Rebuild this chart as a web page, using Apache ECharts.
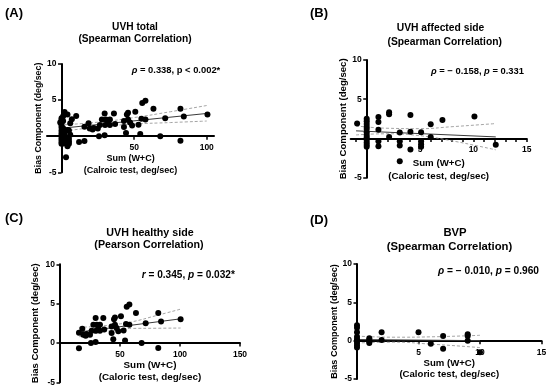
<!DOCTYPE html>
<html><head><meta charset="utf-8">
<script src="https://cdn.jsdelivr.net/npm/echarts@6/dist/echarts.min.js"></script>
<style>html,body{margin:0;padding:0;background:#fff}#c{width:550px;height:390px}</style>
</head><body><div id="c"></div>
<script>
const FONT = '"Liberation Sans", Arial, Helvetica, sans-serif';

// ---------- DATA ----------
// (B) UVH affected side
const affectedX = [-0.9, 0,0,0,0,0,0,0,0,0,0,0,0, 1.1,1.1,1.1,1.1,1.1, 2.1,2.1,2.1, 3.1,3.1,3.1,3.1, 4.1,4.1,4.1, 5.1,5.1,5.1,5.1, 6,6, 7.1, 10.1, 12.1];
const affectedY = [1.9, 2.5,2.2,1.85,1.5,1.2,0.8,0.45,0.15,-0.2,-0.5,-0.8,-1.05, 2.75,2.1,1.1,-0.35,-1.0, 3.35,3.1,0.2, 0.75,-0.35,-0.9,-2.9, 3.0,0.85,-1.4, 0.8,-0.35,-0.75,-1.05, 1.8,0.2, 2.35, 2.8, -0.8];
// (C) UVH healthy side
const healthyX = [15.8,15.8,18.6,19.4,21.4,22.2,25.8,25,26.4,27.8,29.7,30,30.6,29.7,33.3,31.9,33.3,36.1,36.9,43,43,44.4,45,45.8,45.8,47.2,48.6,50.8,54.2,55,55.6,57.8,57.8,53,63.3,68,71.4,81.9,81.9,84.2,100.5];
const healthyY = [-0.68,1.3,1.8,1.05,0.93,1.14,0.0,1.05,1.56,2.3,3.16,1.56,2.3,0.13,2.3,1.8,1.56,3.16,1.7,2.1,1.27,0.46,3.0,3.25,2.3,1.9,1.48,3.4,0.3,2.4,4.6,4.9,2.3,1.6,3.8,0.0,2.5,3.8,-0.63,2.74,3.0];
// (D) BVP
const bvpX = [0,0,0,0,0,0,0,0,0, 1,1,1,1, 2,2, 5, 6, 7,7, 9,9,9, 10];
const bvpY = [2.0,1.7,1.1,0.5,0.2,0.0,-0.3,-0.6,-0.9, 0.3,0.1,-0.1,-0.3, 1.1,0.1, 1.1, -0.4, 0.6,-1.05, 0.85,0.6,0.0, -1.5];
// (A) UVH total = affected + healthy sides
const totalX = affectedX.concat(healthyX);
const totalY = affectedY.concat(healthyY);

// regression lines and 95% confidence bands
const fitAX = [-1, 100], fitAY = [1.08, 3.15];
const bandAX = [-1, 25, 50, 75, 100];
const bandAUp = [1.55, 1.94, 2.58, 3.39, 4.25];
const bandALo = [0.61, 1.28, 1.68, 1.89, 2.1];

const fitBX = [-1, 12.1], fitBY = [0.97, 0.2];
const bandBX = [-1, 2, 5, 8, 12.1];
const bandBUp = [1.6, 1.3, 1.25, 1.5, 1.9];
const bandBLo = [0.45, 0.6, 0.35, -0.3, -1.45];

const fitCX = [15.8, 100.5], fitCY = [1.39, 3.07];
const bandCX = [15.8, 30, 45, 60, 80, 100.5];
const bandCUp = [1.99, 2.1, 2.33, 2.69, 3.47, 4.3];
const bandCLo = [0.79, 1.24, 1.61, 1.85, 1.87, 1.9];

const fitDX = [0, 10], fitDY = [0.15, 0.0];
const bandDX = [0, 3, 6, 10];
const bandDUp = [0.6, 0.45, 0.5, 0.7];
const bandDLo = [-0.3, -0.2, -0.45, -0.9];

const Y_MIN = -5, Y_MAX = 10, Y_STEP = 5;

// ---------- LAYOUT ----------
const panels = [
  { grid:{left:47, top:64, width:167, height:108.3}, xmin:-10, xmax:105, xlabels:[50,100], xticks:[50,100], hideY0:true,
    xs:totalX, ys:totalY, fx:fitAX, fy:fitAY, bx:bandAX, bu:bandAUp, bl:bandALo,
    xname:'Sum (W+C)\n(Calroic test, deg/sec)', xfs:9, xlh:11.7, xgap:16.3, yfs:8.8, ygap:17 },
  { grid:{left:350.7, top:60, width:176, height:117.7}, xmin:-1.5, xmax:15, xlabels:[5,10,15],
    xticks:[-1,0,1,2,3,4,5,6,7,8,9,10,11,12,13,14,15], hideY0:true,
    xs:affectedX, ys:affectedY, fx:fitBX, fy:fitBY, bx:bandBX, bu:bandBUp, bl:bandBLo,
    xname:'Sum (W+C)\n(Caloric test, deg/sec)', xfs:9.7, xlh:12.4, xgap:18.8, yfs:9.6, ygap:17.5 },
  { grid:{left:60, top:264.3, width:180, height:118}, xmin:0, xmax:150, xlabels:[50,100,150], xticks:[0,50,100,150], hideY0:false,
    xs:healthyX, ys:healthyY, fx:fitCX, fy:fitCY, bx:bandCX, bu:bandCUp, bl:bandCLo,
    xname:'Sum (W+C)\n(Caloric test, deg/sec)', xfs:9.9, xlh:11.6, xgap:12.6, yfs:9.5, ygap:20 },
  { grid:{left:357, top:264, width:184.5, height:115}, xmin:0, xmax:15, xlabels:[5,10,15], xticks:[0,5,10,15], hideY0:false,
    xs:bvpX, ys:bvpY, fx:fitDX, fy:fitDY, bx:bandDX, bu:bandDUp, bl:bandDLo,
    xname:'Sum (W+C)\n(Caloric test, deg/sec)', xfs:9.6, xlh:11, xgap:14.5, yfs:9.1, ygap:17 }
];

const grids = [], xAxes = [], yAxes = [], series = [];
const zip = (a, b) => a.map((v, i) => [v, b[i]]);
panels.forEach((p, i) => {
  grids.push(p.grid);
  // axes cross at the origin: shift each axis from the grid edge to the zero of the other axis
  const xOff = -p.grid.height * (0 - Y_MIN) / (Y_MAX - Y_MIN);
  const yOff = -p.grid.width * (0 - p.xmin) / (p.xmax - p.xmin);
  xAxes.push({
    gridIndex:i, type:'value', min:p.xmin, max:p.xmax, position:'bottom', offset:xOff,
    splitLine:{show:false},
    axisLine:{onZero:false, lineStyle:{color:'#000', width:2}},
    axisTick:{customValues:p.xticks, length:3.5, lineStyle:{color:'#000', width:1.5}},
    axisLabel:{customValues:p.xlabels, margin:7, fontSize:8.5, fontWeight:'bold', color:'#000', fontFamily:FONT},
    name:p.xname, nameLocation:'middle', nameGap:p.xgap,
    nameTextStyle:{fontSize:p.xfs, lineHeight:p.xlh, fontWeight:'bold', color:'#000', fontFamily:FONT}
  });
  yAxes.push({
    gridIndex:i, type:'value', min:Y_MIN, max:Y_MAX, interval:Y_STEP, position:'left', offset:yOff,
    splitLine:{show:false},
    axisLine:{onZero:false, lineStyle:{color:'#000', width:2}},
    axisTick:{length:3.5, lineStyle:{color:'#000', width:1.5}},
    axisLabel:{margin:5, fontSize:8.5, fontWeight:'bold', color:'#000', fontFamily:FONT,
      formatter: v => (p.hideY0 && v === 0) ? '' : String(v)},
    name:'Bias Component (deg/sec)', nameLocation:'middle', nameGap:p.ygap,
    nameTextStyle:{fontSize:p.yfs, fontWeight:'bold', color:'#000', fontFamily:FONT}
  });
  const bandStyle = {color:'#9a9a9a', width:0.9, type:[3,2]};
  series.push({type:'line', xAxisIndex:i, yAxisIndex:i, data:zip(p.bx, p.bu), smooth:true, symbol:'none', lineStyle:bandStyle, silent:true, z:1});
  series.push({type:'line', xAxisIndex:i, yAxisIndex:i, data:zip(p.bx, p.bl), smooth:true, symbol:'none', lineStyle:bandStyle, silent:true, z:1});
  series.push({type:'line', xAxisIndex:i, yAxisIndex:i, data:zip(p.fx, p.fy), symbol:'none', lineStyle:{color:'#3a3a3a', width:1}, silent:true, z:2});
  series.push({type:'scatter', xAxisIndex:i, yAxisIndex:i, data:zip(p.xs, p.ys), symbolSize:6, itemStyle:{color:'#000', opacity:1}, z:3});
});

// ---------- TEXT ----------
function txt(t, x, y, size, align, rich) {
  const style = {text:t, fill:'#000', fontSize:size, fontWeight:'bold', fontFamily:FONT,
    align:align, textAlign:align, verticalAlign:'middle', textVerticalAlign:'middle'};
  if (rich) style.rich = {i:{fontSize:size, fontWeight:'bold', fontStyle:'italic', fontFamily:FONT, fill:'#000'}};
  return {type:'text', x:x, y:y, style:style, z:10};
}
const graphic = [
  txt('(A)', 5, 13, 13, 'left'),
  txt('(B)', 310, 13, 13, 'left'),
  txt('(C)', 5, 218, 13, 'left'),
  txt('(D)', 310, 220, 13, 'left'),
  txt('UVH total', 135, 26.7, 10.2, 'center'),
  txt('(Spearman Correlation)', 135, 39.3, 10.2, 'center'),
  txt('UVH affected side', 440.5, 28, 10.3, 'center'),
  txt('(Spearman Correlation)', 444.7, 41.7, 10.3, 'center'),
  txt('UVH healthy side', 150, 233, 10.7, 'center'),
  txt('(Pearson Correlation)', 149, 245, 10.7, 'center'),
  txt('BVP', 455, 233.3, 11.3, 'center'),
  txt('(Spearman Correlation)', 449.5, 246.7, 11.3, 'center'),
  txt('{i|ρ} = 0.338, p < 0.002*', 131.7, 70, 9.4, 'left', true),
  txt('{i|ρ} = − 0.158, {i|p} = 0.331', 431, 71.7, 9.4, 'left', true),
  txt('{i|r} = 0.345, {i|p} = 0.032*', 141.7, 275, 10.1, 'left', true),
  txt('{i|ρ} = − 0.010, {i|p} = 0.960', 438, 271, 10.2, 'left', true)
];

const chart = echarts.init(document.getElementById('c'), null, {renderer:'canvas'});
chart.setOption({
  animation:false,
  backgroundColor:'#fff',
  grid:grids, xAxis:xAxes, yAxis:yAxes, series:series, graphic:graphic
});
</script>
</body></html>
